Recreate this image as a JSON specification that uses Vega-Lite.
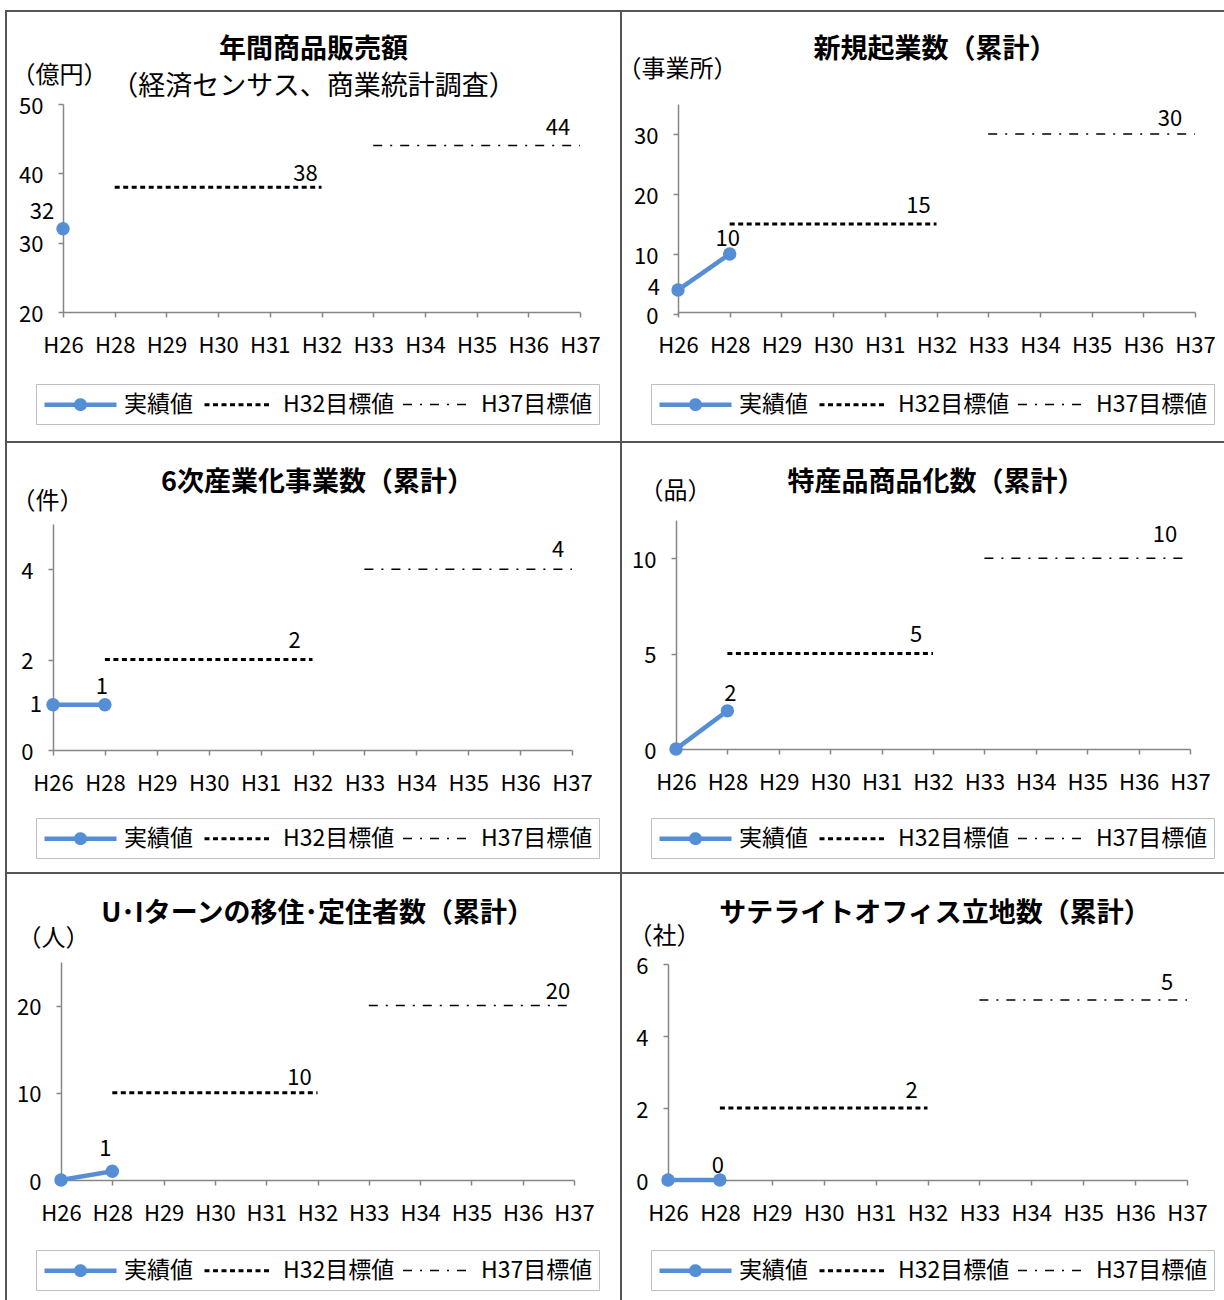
{
 "$schema": "https://vega.github.io/schema/vega-lite/v6.json",
 "background": "white",
 "padding": {"left": 5, "top": 10, "right": 0, "bottom": 0},
 "columns": 2,
 "spacing": 0,
 "bounds": "flush",
 "resolve": {
  "scale": {"color": "independent", "strokeDash": "independent", "strokeWidth": "independent"},
  "legend": {"color": "independent", "strokeDash": "independent", "strokeWidth": "independent"}
 },
 "datasets": {
  "d1": [
   {"s": "実績値", "x": "H26", "v": 32},
   {"s": "H32目標値", "x": "H28", "v": 38}, {"s": "H32目標値", "x": "H29", "v": 38}, {"s": "H32目標値", "x": "H30", "v": 38}, {"s": "H32目標値", "x": "H31", "v": 38}, {"s": "H32目標値", "x": "H32", "v": 38},
   {"s": "H37目標値", "x": "H33", "v": 44}, {"s": "H37目標値", "x": "H34", "v": 44}, {"s": "H37目標値", "x": "H35", "v": 44}, {"s": "H37目標値", "x": "H36", "v": 44}, {"s": "H37目標値", "x": "H37", "v": 44}
  ],
  "d2": [
   {"s": "実績値", "x": "H26", "v": 4}, {"s": "実績値", "x": "H28", "v": 10},
   {"s": "H32目標値", "x": "H28", "v": 15}, {"s": "H32目標値", "x": "H29", "v": 15}, {"s": "H32目標値", "x": "H30", "v": 15}, {"s": "H32目標値", "x": "H31", "v": 15}, {"s": "H32目標値", "x": "H32", "v": 15},
   {"s": "H37目標値", "x": "H33", "v": 30}, {"s": "H37目標値", "x": "H34", "v": 30}, {"s": "H37目標値", "x": "H35", "v": 30}, {"s": "H37目標値", "x": "H36", "v": 30}, {"s": "H37目標値", "x": "H37", "v": 30}
  ],
  "d3": [
   {"s": "実績値", "x": "H26", "v": 1}, {"s": "実績値", "x": "H28", "v": 1},
   {"s": "H32目標値", "x": "H28", "v": 2}, {"s": "H32目標値", "x": "H29", "v": 2}, {"s": "H32目標値", "x": "H30", "v": 2}, {"s": "H32目標値", "x": "H31", "v": 2}, {"s": "H32目標値", "x": "H32", "v": 2},
   {"s": "H37目標値", "x": "H33", "v": 4}, {"s": "H37目標値", "x": "H34", "v": 4}, {"s": "H37目標値", "x": "H35", "v": 4}, {"s": "H37目標値", "x": "H36", "v": 4}, {"s": "H37目標値", "x": "H37", "v": 4}
  ],
  "d4": [
   {"s": "実績値", "x": "H26", "v": 0}, {"s": "実績値", "x": "H28", "v": 2},
   {"s": "H32目標値", "x": "H28", "v": 5}, {"s": "H32目標値", "x": "H29", "v": 5}, {"s": "H32目標値", "x": "H30", "v": 5}, {"s": "H32目標値", "x": "H31", "v": 5}, {"s": "H32目標値", "x": "H32", "v": 5},
   {"s": "H37目標値", "x": "H33", "v": 10}, {"s": "H37目標値", "x": "H34", "v": 10}, {"s": "H37目標値", "x": "H35", "v": 10}, {"s": "H37目標値", "x": "H36", "v": 10}, {"s": "H37目標値", "x": "H37", "v": 10}
  ],
  "d5": [
   {"s": "実績値", "x": "H26", "v": 0}, {"s": "実績値", "x": "H28", "v": 1},
   {"s": "H32目標値", "x": "H28", "v": 10}, {"s": "H32目標値", "x": "H29", "v": 10}, {"s": "H32目標値", "x": "H30", "v": 10}, {"s": "H32目標値", "x": "H31", "v": 10}, {"s": "H32目標値", "x": "H32", "v": 10},
   {"s": "H37目標値", "x": "H33", "v": 20}, {"s": "H37目標値", "x": "H34", "v": 20}, {"s": "H37目標値", "x": "H35", "v": 20}, {"s": "H37目標値", "x": "H36", "v": 20}, {"s": "H37目標値", "x": "H37", "v": 20}
  ],
  "d6": [
   {"s": "実績値", "x": "H26", "v": 0}, {"s": "実績値", "x": "H28", "v": 0},
   {"s": "H32目標値", "x": "H28", "v": 2}, {"s": "H32目標値", "x": "H29", "v": 2}, {"s": "H32目標値", "x": "H30", "v": 2}, {"s": "H32目標値", "x": "H31", "v": 2}, {"s": "H32目標値", "x": "H32", "v": 2},
   {"s": "H37目標値", "x": "H33", "v": 5}, {"s": "H37目標値", "x": "H34", "v": 5}, {"s": "H37目標値", "x": "H35", "v": 5}, {"s": "H37目標値", "x": "H36", "v": 5}, {"s": "H37目標値", "x": "H37", "v": 5}
  ]
 },
 "concat": [
  {
   "width": 615, "height": 431,
   "data": {"name": "d1"},
   "title": {"text": "年間商品販売額", "subtitle": "（経済センサス、商業統計調査）", "offset": -90, "subtitlePadding": 10},
   "encoding": {
    "x": {"field": "x", "type": "ordinal", "scale": {"type": "point", "padding": 0, "domain": ["H26","H28","H29","H30","H31","H32","H33","H34","H35","H36","H37"], "range": [57, 574]}, "axis": {"offset": -130, "title": null}},
    "y": {"field": "v", "type": "quantitative", "scale": {"domain": [20, 50], "range": [301, 93], "nice": false, "zero": false}, "axis": {"offset": -57, "values": [20, 30, 40, 50], "title": "（億円）", "titleX": -52, "titleY": 64}}
   },
   "layer": [
    {"mark": {"type": "line"}, "encoding": {
      "color": {"field": "s", "type": "nominal", "scale": {"domain": ["実績値","H32目標値","H37目標値"], "range": ["#558ED5","#000000","#000000"]}, "legend": {"title": null, "orient": "none", "legendX": 30, "legendY": 373, "direction": "horizontal", "encode": {"symbols": {"update": {"shape": {"signal": "datum.value === '実績値' ? 'M-1,0H5M1.65,0A0.35,0.35 0 1,1 2.35,0A0.35,0.35 0 1,1 1.65,0' : 'M-1,0H4.6'"}, "fill": {"signal": "datum.value === '実績値' ? '#558ED5' : 'transparent'"}}}}}},
      "strokeDash": {"field": "s", "type": "nominal", "scale": {"domain": ["実績値","H32目標値","H37目標値"], "range": [[1,0],[5,3.5],[9,8,2,8]]}, "legend": {"title": null, "orient": "none", "legendX": 30, "legendY": 373, "direction": "horizontal", "encode": {"symbols": {"update": {"shape": {"signal": "datum.value === '実績値' ? 'M-1,0H5M1.65,0A0.35,0.35 0 1,1 2.35,0A0.35,0.35 0 1,1 1.65,0' : 'M-1,0H4.6'"}, "fill": {"signal": "datum.value === '実績値' ? '#558ED5' : 'transparent'"}}}}}},
      "strokeWidth": {"field": "s", "type": "nominal", "scale": {"domain": ["実績値","H32目標値","H37目標値"], "range": [4.5, 1.5, 1.5]}, "legend": {"title": null, "orient": "none", "legendX": 30, "legendY": 373, "direction": "horizontal", "encode": {"symbols": {"update": {"shape": {"signal": "datum.value === '実績値' ? 'M-1,0H5M1.65,0A0.35,0.35 0 1,1 2.35,0A0.35,0.35 0 1,1 1.65,0' : 'M-1,0H4.6'"}, "fill": {"signal": "datum.value === '実績値' ? '#558ED5' : 'transparent'"}}}}}}
    }},
    {"transform": [{"filter": "datum.s === '実績値'"}], "mark": {"type": "point", "filled": true, "size": 180, "color": "#558ED5", "opacity": 1}},
    {"transform": [{"filter": "datum.s === '実績値' && datum.x === 'H26'"}], "mark": {"type": "text", "dx": -21, "dy": -10, "baseline": "alphabetic"}, "encoding": {"text": {"field": "v"}}},
    {"transform": [{"filter": "datum.s === 'H32目標値' && datum.x === 'H32'"}], "mark": {"type": "text", "dx": -16, "dy": -6, "baseline": "alphabetic"}, "encoding": {"text": {"field": "v"}}},
    {"transform": [{"filter": "datum.s === 'H37目標値' && datum.x === 'H37'"}], "mark": {"type": "text", "dx": -22, "dy": -11, "baseline": "alphabetic"}, "encoding": {"text": {"field": "v"}}}
   ]
  },
  {
   "width": 604, "height": 431,
   "data": {"name": "d2"},
   "title": {"text": "新規起業数（累計）", "offset": -53, "dx": 12},
   "encoding": {
    "x": {"field": "x", "type": "ordinal", "scale": {"type": "point", "padding": 0, "domain": ["H26","H28","H29","H30","H31","H32","H33","H34","H35","H36","H37"], "range": [57, 574]}, "axis": {"offset": -130, "title": null}},
    "y": {"field": "v", "type": "quantitative", "scale": {"domain": [0, 35], "range": [303, 93], "nice": false, "zero": false}, "axis": {"offset": -57, "values": [0, 10, 20, 30], "title": "（事業所）", "titleX": -61, "titleY": 58}}
   },
   "layer": [
    {"mark": {"type": "line"}, "encoding": {
      "color": {"field": "s", "type": "nominal", "scale": {"domain": ["実績値","H32目標値","H37目標値"], "range": ["#558ED5","#000000","#000000"]}, "legend": {"title": null, "orient": "none", "legendX": 30, "legendY": 373, "direction": "horizontal", "encode": {"symbols": {"update": {"shape": {"signal": "datum.value === '実績値' ? 'M-1,0H5M1.65,0A0.35,0.35 0 1,1 2.35,0A0.35,0.35 0 1,1 1.65,0' : 'M-1,0H4.6'"}, "fill": {"signal": "datum.value === '実績値' ? '#558ED5' : 'transparent'"}}}}}},
      "strokeDash": {"field": "s", "type": "nominal", "scale": {"domain": ["実績値","H32目標値","H37目標値"], "range": [[1,0],[5,3.5],[9,8,2,8]]}, "legend": {"title": null, "orient": "none", "legendX": 30, "legendY": 373, "direction": "horizontal", "encode": {"symbols": {"update": {"shape": {"signal": "datum.value === '実績値' ? 'M-1,0H5M1.65,0A0.35,0.35 0 1,1 2.35,0A0.35,0.35 0 1,1 1.65,0' : 'M-1,0H4.6'"}, "fill": {"signal": "datum.value === '実績値' ? '#558ED5' : 'transparent'"}}}}}},
      "strokeWidth": {"field": "s", "type": "nominal", "scale": {"domain": ["実績値","H32目標値","H37目標値"], "range": [4.5, 1.5, 1.5]}, "legend": {"title": null, "orient": "none", "legendX": 30, "legendY": 373, "direction": "horizontal", "encode": {"symbols": {"update": {"shape": {"signal": "datum.value === '実績値' ? 'M-1,0H5M1.65,0A0.35,0.35 0 1,1 2.35,0A0.35,0.35 0 1,1 1.65,0' : 'M-1,0H4.6'"}, "fill": {"signal": "datum.value === '実績値' ? '#558ED5' : 'transparent'"}}}}}}
    }},
    {"transform": [{"filter": "datum.s === '実績値'"}], "mark": {"type": "point", "filled": true, "size": 180, "color": "#558ED5", "opacity": 1}},
    {"transform": [{"filter": "datum.s === '実績値' && datum.x === 'H26'"}], "mark": {"type": "text", "dx": -18, "dy": -2, "align": "right", "baseline": "middle"}, "encoding": {"text": {"field": "v"}}},
    {"transform": [{"filter": "datum.s === '実績値' && datum.x === 'H28'"}], "mark": {"type": "text", "dx": -2, "dy": -8, "baseline": "alphabetic"}, "encoding": {"text": {"field": "v"}}},
    {"transform": [{"filter": "datum.s === 'H32目標値' && datum.x === 'H32'"}], "mark": {"type": "text", "dx": -18, "dy": -11, "baseline": "alphabetic"}, "encoding": {"text": {"field": "v"}}},
    {"transform": [{"filter": "datum.s === 'H37目標値' && datum.x === 'H37'"}], "mark": {"type": "text", "dx": -25, "dy": -8, "baseline": "alphabetic"}, "encoding": {"text": {"field": "v"}}}
   ]
  },
  {
   "width": 615, "height": 431,
   "data": {"name": "d3"},
   "title": {"text": "6次産業化事業数（累計）", "offset": -55, "dx": 4},
   "encoding": {
    "x": {"field": "x", "type": "ordinal", "scale": {"type": "point", "padding": 0, "domain": ["H26","H28","H29","H30","H31","H32","H33","H34","H35","H36","H37"], "range": [47, 566]}, "axis": {"offset": -123, "title": null}},
    "y": {"field": "v", "type": "quantitative", "scale": {"domain": [0, 5], "range": [308, 82], "nice": false, "zero": false}, "axis": {"offset": -47, "values": [0, 2, 4], "title": "（件）", "titleX": -42, "titleY": 59}}
   },
   "layer": [
    {"mark": {"type": "line"}, "encoding": {
      "color": {"field": "s", "type": "nominal", "scale": {"domain": ["実績値","H32目標値","H37目標値"], "range": ["#558ED5","#000000","#000000"]}, "legend": {"title": null, "orient": "none", "legendX": 30, "legendY": 376, "direction": "horizontal", "encode": {"symbols": {"update": {"shape": {"signal": "datum.value === '実績値' ? 'M-1,0H5M1.65,0A0.35,0.35 0 1,1 2.35,0A0.35,0.35 0 1,1 1.65,0' : 'M-1,0H4.6'"}, "fill": {"signal": "datum.value === '実績値' ? '#558ED5' : 'transparent'"}}}}}},
      "strokeDash": {"field": "s", "type": "nominal", "scale": {"domain": ["実績値","H32目標値","H37目標値"], "range": [[1,0],[5,3.5],[9,8,2,8]]}, "legend": {"title": null, "orient": "none", "legendX": 30, "legendY": 376, "direction": "horizontal", "encode": {"symbols": {"update": {"shape": {"signal": "datum.value === '実績値' ? 'M-1,0H5M1.65,0A0.35,0.35 0 1,1 2.35,0A0.35,0.35 0 1,1 1.65,0' : 'M-1,0H4.6'"}, "fill": {"signal": "datum.value === '実績値' ? '#558ED5' : 'transparent'"}}}}}},
      "strokeWidth": {"field": "s", "type": "nominal", "scale": {"domain": ["実績値","H32目標値","H37目標値"], "range": [4.5, 1.5, 1.5]}, "legend": {"title": null, "orient": "none", "legendX": 30, "legendY": 376, "direction": "horizontal", "encode": {"symbols": {"update": {"shape": {"signal": "datum.value === '実績値' ? 'M-1,0H5M1.65,0A0.35,0.35 0 1,1 2.35,0A0.35,0.35 0 1,1 1.65,0' : 'M-1,0H4.6'"}, "fill": {"signal": "datum.value === '実績値' ? '#558ED5' : 'transparent'"}}}}}}
    }},
    {"transform": [{"filter": "datum.s === '実績値'"}], "mark": {"type": "point", "filled": true, "size": 180, "color": "#558ED5", "opacity": 1}},
    {"transform": [{"filter": "datum.s === '実績値' && datum.x === 'H26'"}], "mark": {"type": "text", "dx": -11, "dy": 0, "align": "right", "baseline": "middle"}, "encoding": {"text": {"field": "v"}}},
    {"transform": [{"filter": "datum.s === '実績値' && datum.x === 'H28'"}], "mark": {"type": "text", "dx": -3, "dy": -11, "baseline": "alphabetic"}, "encoding": {"text": {"field": "v"}}},
    {"transform": [{"filter": "datum.s === 'H32目標値' && datum.x === 'H32'"}], "mark": {"type": "text", "dx": -18, "dy": -12, "baseline": "alphabetic"}, "encoding": {"text": {"field": "v"}}},
    {"transform": [{"filter": "datum.s === 'H37目標値' && datum.x === 'H37'"}], "mark": {"type": "text", "dx": -14, "dy": -12, "baseline": "alphabetic"}, "encoding": {"text": {"field": "v"}}}
   ]
  },
  {
   "width": 604, "height": 431,
   "data": {"name": "d4"},
   "title": {"text": "特産品商品化数（累計）", "offset": -55, "dx": 13},
   "encoding": {
    "x": {"field": "x", "type": "ordinal", "scale": {"type": "point", "padding": 0, "domain": ["H26","H28","H29","H30","H31","H32","H33","H34","H35","H36","H37"], "range": [55, 569]}, "axis": {"offset": -124, "title": null}},
    "y": {"field": "v", "type": "quantitative", "scale": {"domain": [0, 12], "range": [307, 78], "nice": false, "zero": false}, "axis": {"offset": -55, "values": [0, 5, 10], "title": "（品）", "titleX": -37, "titleY": 49}}
   },
   "layer": [
    {"mark": {"type": "line"}, "encoding": {
      "color": {"field": "s", "type": "nominal", "scale": {"domain": ["実績値","H32目標値","H37目標値"], "range": ["#558ED5","#000000","#000000"]}, "legend": {"title": null, "orient": "none", "legendX": 30, "legendY": 376, "direction": "horizontal", "encode": {"symbols": {"update": {"shape": {"signal": "datum.value === '実績値' ? 'M-1,0H5M1.65,0A0.35,0.35 0 1,1 2.35,0A0.35,0.35 0 1,1 1.65,0' : 'M-1,0H4.6'"}, "fill": {"signal": "datum.value === '実績値' ? '#558ED5' : 'transparent'"}}}}}},
      "strokeDash": {"field": "s", "type": "nominal", "scale": {"domain": ["実績値","H32目標値","H37目標値"], "range": [[1,0],[5,3.5],[9,8,2,8]]}, "legend": {"title": null, "orient": "none", "legendX": 30, "legendY": 376, "direction": "horizontal", "encode": {"symbols": {"update": {"shape": {"signal": "datum.value === '実績値' ? 'M-1,0H5M1.65,0A0.35,0.35 0 1,1 2.35,0A0.35,0.35 0 1,1 1.65,0' : 'M-1,0H4.6'"}, "fill": {"signal": "datum.value === '実績値' ? '#558ED5' : 'transparent'"}}}}}},
      "strokeWidth": {"field": "s", "type": "nominal", "scale": {"domain": ["実績値","H32目標値","H37目標値"], "range": [4.5, 1.5, 1.5]}, "legend": {"title": null, "orient": "none", "legendX": 30, "legendY": 376, "direction": "horizontal", "encode": {"symbols": {"update": {"shape": {"signal": "datum.value === '実績値' ? 'M-1,0H5M1.65,0A0.35,0.35 0 1,1 2.35,0A0.35,0.35 0 1,1 1.65,0' : 'M-1,0H4.6'"}, "fill": {"signal": "datum.value === '実績値' ? '#558ED5' : 'transparent'"}}}}}}
    }},
    {"transform": [{"filter": "datum.s === '実績値'"}], "mark": {"type": "point", "filled": true, "size": 180, "color": "#558ED5", "opacity": 1}},
    {"transform": [{"filter": "datum.s === '実績値' && datum.x === 'H28'"}], "mark": {"type": "text", "dx": 3, "dy": -10, "baseline": "alphabetic"}, "encoding": {"text": {"field": "v"}}},
    {"transform": [{"filter": "datum.s === 'H32目標値' && datum.x === 'H32'"}], "mark": {"type": "text", "dx": -17, "dy": -12, "baseline": "alphabetic"}, "encoding": {"text": {"field": "v"}}},
    {"transform": [{"filter": "datum.s === 'H37目標値' && datum.x === 'H37'"}], "mark": {"type": "text", "dx": -25, "dy": -16, "baseline": "alphabetic"}, "encoding": {"text": {"field": "v"}}}
   ]
  },
  {
   "width": 615, "height": 431,
   "data": {"name": "d5"},
   "title": {"text": "U･Iターンの移住･定住者数（累計）", "offset": -55, "dx": 4},
   "encoding": {
    "x": {"field": "x", "type": "ordinal", "scale": {"type": "point", "padding": 0, "domain": ["H26","H28","H29","H30","H31","H32","H33","H34","H35","H36","H37"], "range": [55, 568]}, "axis": {"offset": -124, "title": null}},
    "y": {"field": "v", "type": "quantitative", "scale": {"domain": [0, 25], "range": [307, 89], "nice": false, "zero": false}, "axis": {"offset": -55, "values": [0, 10, 20], "title": "（人）", "titleX": -44, "titleY": 65}}
   },
   "layer": [
    {"mark": {"type": "line"}, "encoding": {
      "color": {"field": "s", "type": "nominal", "scale": {"domain": ["実績値","H32目標値","H37目標値"], "range": ["#558ED5","#000000","#000000"]}, "legend": {"title": null, "orient": "none", "legendX": 30, "legendY": 377, "direction": "horizontal", "encode": {"symbols": {"update": {"shape": {"signal": "datum.value === '実績値' ? 'M-1,0H5M1.65,0A0.35,0.35 0 1,1 2.35,0A0.35,0.35 0 1,1 1.65,0' : 'M-1,0H4.6'"}, "fill": {"signal": "datum.value === '実績値' ? '#558ED5' : 'transparent'"}}}}}},
      "strokeDash": {"field": "s", "type": "nominal", "scale": {"domain": ["実績値","H32目標値","H37目標値"], "range": [[1,0],[5,3.5],[9,8,2,8]]}, "legend": {"title": null, "orient": "none", "legendX": 30, "legendY": 377, "direction": "horizontal", "encode": {"symbols": {"update": {"shape": {"signal": "datum.value === '実績値' ? 'M-1,0H5M1.65,0A0.35,0.35 0 1,1 2.35,0A0.35,0.35 0 1,1 1.65,0' : 'M-1,0H4.6'"}, "fill": {"signal": "datum.value === '実績値' ? '#558ED5' : 'transparent'"}}}}}},
      "strokeWidth": {"field": "s", "type": "nominal", "scale": {"domain": ["実績値","H32目標値","H37目標値"], "range": [4.5, 1.5, 1.5]}, "legend": {"title": null, "orient": "none", "legendX": 30, "legendY": 377, "direction": "horizontal", "encode": {"symbols": {"update": {"shape": {"signal": "datum.value === '実績値' ? 'M-1,0H5M1.65,0A0.35,0.35 0 1,1 2.35,0A0.35,0.35 0 1,1 1.65,0' : 'M-1,0H4.6'"}, "fill": {"signal": "datum.value === '実績値' ? '#558ED5' : 'transparent'"}}}}}}
    }},
    {"transform": [{"filter": "datum.s === '実績値'"}], "mark": {"type": "point", "filled": true, "size": 180, "color": "#558ED5", "opacity": 1}},
    {"transform": [{"filter": "datum.s === '実績値' && datum.x === 'H28'"}], "mark": {"type": "text", "dx": -7, "dy": -15, "baseline": "alphabetic"}, "encoding": {"text": {"field": "v"}}},
    {"transform": [{"filter": "datum.s === 'H32目標値' && datum.x === 'H32'"}], "mark": {"type": "text", "dx": -18, "dy": -8, "baseline": "alphabetic"}, "encoding": {"text": {"field": "v"}}},
    {"transform": [{"filter": "datum.s === 'H37目標値' && datum.x === 'H37'"}], "mark": {"type": "text", "dx": -16, "dy": -7, "baseline": "alphabetic"}, "encoding": {"text": {"field": "v"}}}
   ]
  },
  {
   "width": 604, "height": 431,
   "data": {"name": "d6"},
   "title": {"text": "サテライトオフィス立地数（累計）", "offset": -55, "dx": 12},
   "encoding": {
    "x": {"field": "x", "type": "ordinal", "scale": {"type": "point", "padding": 0, "domain": ["H26","H28","H29","H30","H31","H32","H33","H34","H35","H36","H37"], "range": [47, 566]}, "axis": {"offset": -124, "title": null}},
    "y": {"field": "v", "type": "quantitative", "scale": {"domain": [0, 6], "range": [307, 91], "nice": false, "zero": false}, "axis": {"offset": -47, "values": [0, 2, 4, 6], "title": "（社）", "titleX": -40, "titleY": 63}}
   },
   "layer": [
    {"mark": {"type": "line"}, "encoding": {
      "color": {"field": "s", "type": "nominal", "scale": {"domain": ["実績値","H32目標値","H37目標値"], "range": ["#558ED5","#000000","#000000"]}, "legend": {"title": null, "orient": "none", "legendX": 30, "legendY": 377, "direction": "horizontal", "encode": {"symbols": {"update": {"shape": {"signal": "datum.value === '実績値' ? 'M-1,0H5M1.65,0A0.35,0.35 0 1,1 2.35,0A0.35,0.35 0 1,1 1.65,0' : 'M-1,0H4.6'"}, "fill": {"signal": "datum.value === '実績値' ? '#558ED5' : 'transparent'"}}}}}},
      "strokeDash": {"field": "s", "type": "nominal", "scale": {"domain": ["実績値","H32目標値","H37目標値"], "range": [[1,0],[5,3.5],[9,8,2,8]]}, "legend": {"title": null, "orient": "none", "legendX": 30, "legendY": 377, "direction": "horizontal", "encode": {"symbols": {"update": {"shape": {"signal": "datum.value === '実績値' ? 'M-1,0H5M1.65,0A0.35,0.35 0 1,1 2.35,0A0.35,0.35 0 1,1 1.65,0' : 'M-1,0H4.6'"}, "fill": {"signal": "datum.value === '実績値' ? '#558ED5' : 'transparent'"}}}}}},
      "strokeWidth": {"field": "s", "type": "nominal", "scale": {"domain": ["実績値","H32目標値","H37目標値"], "range": [4.5, 1.5, 1.5]}, "legend": {"title": null, "orient": "none", "legendX": 30, "legendY": 377, "direction": "horizontal", "encode": {"symbols": {"update": {"shape": {"signal": "datum.value === '実績値' ? 'M-1,0H5M1.65,0A0.35,0.35 0 1,1 2.35,0A0.35,0.35 0 1,1 1.65,0' : 'M-1,0H4.6'"}, "fill": {"signal": "datum.value === '実績値' ? '#558ED5' : 'transparent'"}}}}}}
    }},
    {"transform": [{"filter": "datum.s === '実績値'"}], "mark": {"type": "point", "filled": true, "size": 180, "color": "#558ED5", "opacity": 1}},
    {"transform": [{"filter": "datum.s === '実績値' && datum.x === 'H28'"}], "mark": {"type": "text", "dx": -2, "dy": -7, "baseline": "alphabetic"}, "encoding": {"text": {"field": "v"}}},
    {"transform": [{"filter": "datum.s === 'H32目標値' && datum.x === 'H32'"}], "mark": {"type": "text", "dx": -16, "dy": -10, "baseline": "alphabetic"}, "encoding": {"text": {"field": "v"}}},
    {"transform": [{"filter": "datum.s === 'H37目標値' && datum.x === 'H37'"}], "mark": {"type": "text", "dx": -20, "dy": -10, "baseline": "alphabetic"}, "encoding": {"text": {"field": "v"}}}
   ]
  }
 ],
 "config": {
  "font": "Noto Sans CJK JP",
  "view": {"stroke": "#555555", "strokeWidth": 2},
  "title": {"fontSize": 27, "fontWeight": "bold", "color": "#000000", "subtitleFontSize": 27, "subtitleColor": "#000000", "subtitleFontWeight": "normal", "subtitlePadding": 6, "anchor": "middle"},
  "axis": {"labelFontSize": 22, "labelColor": "#000000", "domainColor": "#868686", "domainWidth": 1.5, "tickColor": "#868686", "tickWidth": 1.5, "tickSize": 5, "grid": false, "titleFontSize": 24, "titleFontWeight": "normal", "titleColor": "#000000", "titleAngle": 0, "titleAlign": "left", "titleBaseline": "middle"},
  "axisX": {"labelAngle": 0, "labelPadding": 18},
  "axisY": {"labelPadding": 15, "labelOffset": 2},
  "text": {"fontSize": 22, "color": "#000000"},
  "legend": {"labelFontSize": 23, "labelColor": "#000000", "symbolSize": 576, "symbolOffset": 0, "labelOffset": 53, "columnPadding": 5, "padding": 6, "strokeColor": "#BFBFBF", "fillColor": "#FFFFFF", "cornerRadius": 0, "labelLimit": 300}
 }
}
